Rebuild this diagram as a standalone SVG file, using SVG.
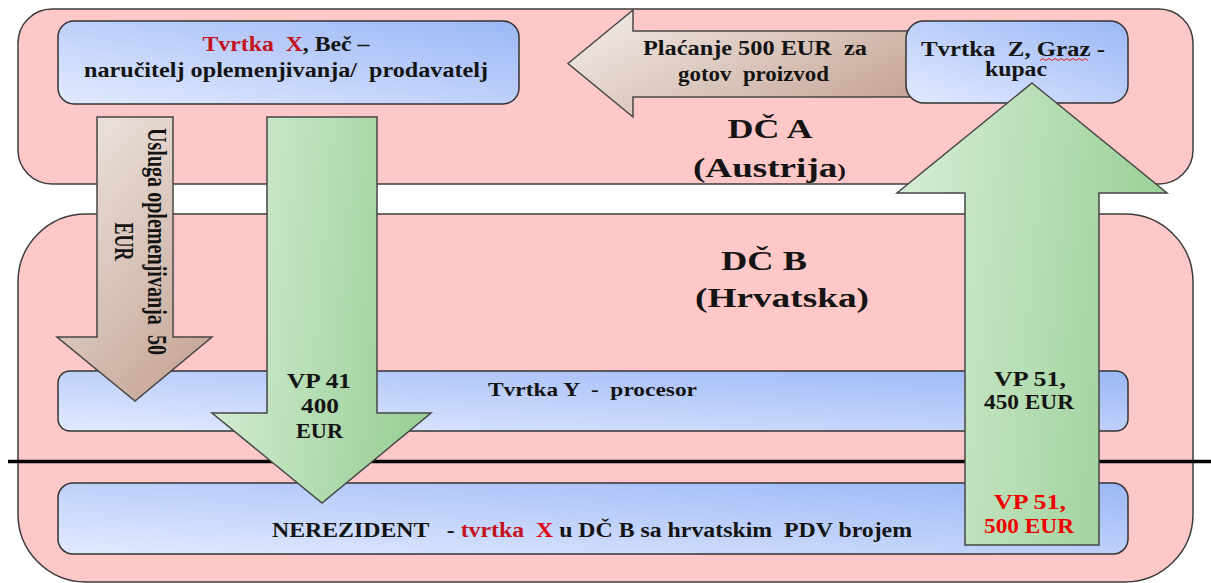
<svg xmlns="http://www.w3.org/2000/svg" width="1211" height="583" viewBox="0 0 1211 583">
<style>
.t{font-family:"Liberation Serif","Times New Roman",serif;font-weight:bold;fill:#141414;text-anchor:middle}
.red{fill:#c4121f}
.bred{fill:#f00000}
.zone{fill:#ffc8c8;stroke:#3c3c3c;stroke-width:1.5}
.box{fill:url(#gBlue);stroke:#333;stroke-width:1.5}
.garrow{stroke:#454545;stroke-width:1.5}
.barrow{stroke:#454545;stroke-width:1.5}
</style>
<defs>
<linearGradient id="gBlue" x1="0" y1="1" x2="1" y2="0">
<stop offset="0" stop-color="#e2eaff"/>
<stop offset="1" stop-color="#9bb7f5"/>
</linearGradient>
<linearGradient id="gGreen" x1="0" y1="0" x2="1" y2="0.15">
<stop offset="0" stop-color="#d8eed7"/>
<stop offset="1" stop-color="#9bd098"/>
</linearGradient>
<linearGradient id="gBrownH" x1="0" y1="0.2" x2="1" y2="0.8">
<stop offset="0" stop-color="#f0e8e4"/>
<stop offset="1" stop-color="#c6a595"/>
</linearGradient>
<linearGradient id="gBrownV" x1="0.2" y1="0" x2="0.8" y2="1">
<stop offset="0" stop-color="#ece3de"/>
<stop offset="1" stop-color="#c6a595"/>
</linearGradient>
</defs>

<g id="zoneA">
<rect class="zone" x="18" y="9" width="1175" height="175" rx="34" ry="34"/>
</g>
<g id="zoneB">
<rect class="zone" x="18" y="214" width="1175" height="368" rx="68" ry="68"/>
</g>

<g id="tvrtkaY">
<rect class="box" x="58" y="371" width="1070" height="60" rx="12" ry="12"/>
<text class="t" xml:space="preserve" x="592.5" y="396" font-size="19" textLength="209" lengthAdjust="spacingAndGlyphs">Tvrtka Y  -  procesor</text>
</g>

<g id="nerezident">
<rect class="box" x="58" y="483" width="1070" height="71" rx="15" ry="15"/>
<text class="t" xml:space="preserve" x="592" y="537" font-size="20" textLength="640" lengthAdjust="spacingAndGlyphs">NEREZIDENT   - <tspan class="red">tvrtka  </tspan><tspan fill="#e00012">X</tspan> u DČ B sa hrvatskim  PDV brojem</text>
</g>

<g id="borderLine">
<line x1="8" y1="461.5" x2="1211" y2="461.5" stroke="#000" stroke-width="3.5"/>
</g>

<g id="connectors">
<g id="arrowPayment">
<polygon class="barrow" fill="url(#gBrownH)" points="568,63.5 633,10 633,31 915,31 915,97 633,97 633,117"/>
<text class="t" xml:space="preserve" x="755" y="55" font-size="20" textLength="224" lengthAdjust="spacingAndGlyphs">Plaćanje 500 EUR  za</text>
<text class="t" xml:space="preserve" x="753.5" y="81" font-size="20" textLength="151" lengthAdjust="spacingAndGlyphs">gotov  proizvod</text>
</g>
<g id="arrowService">
<polygon class="barrow" fill="url(#gBrownV)" points="97,117 173,117 173,337 212,337 135,401 57,337 97,337"/>
<g transform="translate(148,241.5) rotate(90) scale(1,1.4)">
<text class="t" xml:space="preserve" x="0" y="0" font-size="20" textLength="227" lengthAdjust="spacingAndGlyphs">Usluga oplemenjivanja  50</text>
<text class="t" x="0" y="23.6" font-size="20" textLength="38" lengthAdjust="spacingAndGlyphs">EUR</text>
</g>
</g>
<g id="arrowVP41">
<polygon class="garrow" fill="url(#gGreen)" points="267,117 377,117 377,413 431,413 322,503 212,413 267,413"/>
<text class="t" x="319" y="388" font-size="20" textLength="64" lengthAdjust="spacingAndGlyphs">VP 41</text>
<text class="t" x="320" y="413" font-size="20" textLength="38" lengthAdjust="spacingAndGlyphs">400</text>
<text class="t" x="319.5" y="438" font-size="20" textLength="47" lengthAdjust="spacingAndGlyphs">EUR</text>
</g>
</g>

<g id="tvrtkaX">
<rect class="box" x="58" y="21" width="461" height="83" rx="16" ry="16"/>
<text class="t" xml:space="preserve" x="286" y="51" font-size="20" textLength="167" lengthAdjust="spacingAndGlyphs"><tspan class="red">Tvrtka  X</tspan>, Beč –</text>
<text class="t" xml:space="preserve" x="286" y="77" font-size="20" textLength="404" lengthAdjust="spacingAndGlyphs">naručitelj oplemenjivanja/  prodavatelj</text>
</g>

<g id="tvrtkaZ">
<rect class="box" x="906" y="21" width="222" height="82" rx="18" ry="18"/>
<text class="t" xml:space="preserve" x="1013" y="56" font-size="20" textLength="184" lengthAdjust="spacingAndGlyphs">Tvrtka  Z, Graz -</text>
<path d="M1040,60.5 l3,-2 l3,2 l3,-2 l3,2 l3,-2 l3,2 l3,-2 l3,2 l3,-2 l3,2 l3,-2 l3,2 l3,-2 l3,2 l3,-2 l3,2" fill="none" stroke="#e02020" stroke-width="1"/>
<text class="t" x="1016" y="76" font-size="20" textLength="62" lengthAdjust="spacingAndGlyphs">kupac</text>
</g>

<g id="labelA">
<text class="t" x="770" y="138" font-size="27" textLength="85" lengthAdjust="spacingAndGlyphs">DČ A</text>
<text class="t" x="769.5" y="177" font-size="27" textLength="153" lengthAdjust="spacingAndGlyphs">(Austrija<tspan font-size="19">)</tspan></text>
</g>
<g id="labelB">
<text class="t" x="764" y="270" font-size="27" textLength="86" lengthAdjust="spacingAndGlyphs">DČ B</text>
<text class="t" x="782" y="307" font-size="27" textLength="174" lengthAdjust="spacingAndGlyphs">(Hrvatska)</text>
</g>

<g id="connectors2">
<g id="arrowVP51">
<polygon class="garrow" fill="url(#gGreen)" points="1032,83 1167,193 1099,193 1099,545 965,545 965,193 897,193"/>
<text class="t" x="1030" y="386" font-size="20" textLength="72" lengthAdjust="spacingAndGlyphs">VP 51,</text>
<text class="t" x="1029" y="409" font-size="20" textLength="90" lengthAdjust="spacingAndGlyphs">450 EUR</text>
<text class="t bred" x="1030" y="509" font-size="20" textLength="72" lengthAdjust="spacingAndGlyphs">VP 51,</text>
<text class="t bred" x="1029" y="533" font-size="20" textLength="90" lengthAdjust="spacingAndGlyphs">500 EUR</text>
</g>
</g>
</svg>
